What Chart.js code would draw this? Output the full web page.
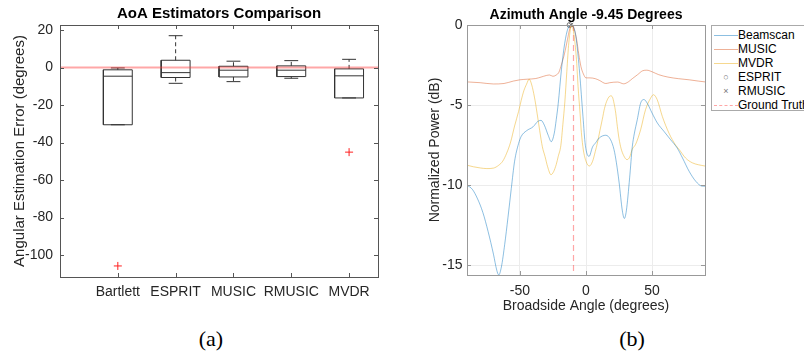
<!DOCTYPE html>
<html>
<head>
<meta charset="utf-8">
<script src="https://cdn.jsdelivr.net/npm/chart.js@4.4.0/dist/chart.umd.min.js"></script>
<style>
  body { margin: 0; width: 804px; height: 356px; overflow: hidden; background: #fff; position: relative; font-family: "Liberation Sans", Arial, sans-serif; }
  canvas { position: absolute; top: 0; }
  #boxChart { left: 0; }
  #powerChart { left: 400px; }
  #legend { position: absolute; left: 711px; top: 25px; width: 120px; height: 86px; border: 1px solid #aaa; box-sizing: border-box; padding-top: 2px; font-size: 12px; color: #000; }
  #legend .row { height: 14px; line-height: 14px; white-space: nowrap; position: relative; padding-left: 26px; }
  #legend .sample { position: absolute; left: 2px; top: 7px; width: 24px; height: 0; }
  #legend .mark { position: absolute; left: 10px; top: 3px; width: 8px; height: 8px; text-align: center; line-height: 8px; font-size: 9px; color: #777; }
  .cap { position: absolute; top: 326px; font-family: "Liberation Serif", "Times New Roman", serif; font-size: 22px; width: 60px; text-align: center; }
</style>
</head>
<body>
<canvas id="boxChart" width="400" height="310"></canvas>
<canvas id="powerChart" width="310" height="320"></canvas>
<div id="legend"></div>
<div class="cap" style="left:181px">(a)</div>
<div class="cap" style="left:602px">(b)</div>
<script>
// ---------- (a) box plot data ----------
var estimators = ['Bartlett', 'ESPRIT', 'MUSIC', 'RMUSIC', 'MVDR'];
var boxQ1 = [-30.5, -5.3, -5.0, -4.8, -16.2];
var boxMedian = [-4.6, -2.7, -1.4, -1.4, -4.4];
var boxQ3 = [-1.2, 3.9, 0.7, 0.9, -0.7];
var whiskerLow = [-30.5, -8.4, -7.5, -5.7, -16.2];
var whiskerHigh = [-0.2, 17.0, 3.4, 3.7, 4.4];
var outlierIndex = [0, 4];
var outlierError = [-105.8, -45.1];
var errorTicks = [20, 0, -20, -40, -60, -80, -100];

// ---------- (b) spectrum data ----------
var beamAngle = [-90, -86, -82, -78, -74, -70, -67.5, -66, -64, -61.5, -59, -56.5, -54, -51, -49, -45, -40, -36.5, -34, -31.5, -28.5, -26.3, -24, -22.5, -21, -18.6, -16.1, -13.6, -11, -8.5, -7.3, -4.8, -2.3, -0.5, 2.3, 5, 7.3, 10, 15, 18.6, 21.2, 23, 25, 27.5, 29, 30.5, 33, 35, 36.5, 38.8, 41.3, 43.8, 46.3, 50, 54, 59, 64, 69, 73, 78, 83, 87.5, 90];
var beamPower = [-10.0, -10.25, -10.85, -11.7, -12.9, -14.3, -15.3, -15.6, -15.1, -13.7, -12.0, -10.2, -8.5, -7.4, -6.95, -6.6, -6.35, -6.02, -5.95, -6.25, -6.9, -7.28, -6.75, -5.9, -4.9, -2.8, -1.14, -0.2, 0, -0.35, -0.93, -3.0, -5.7, -7.5, -8.2, -7.6, -7.35, -7.05, -6.88, -7.16, -7.78, -8.6, -9.8, -11.6, -12.07, -11.6, -9.54, -7.6, -6.8, -5.9, -4.88, -4.65, -4.88, -5.5, -6.12, -6.64, -7.16, -7.68, -8.3, -9.13, -9.75, -10.05, -10.06];
var musicAngle = [-90, -80, -70, -62, -55, -50, -44, -38, -34, -30, -27.5, -25, -22.5, -20.5, -18.5, -16.3, -14, -12.5, -11, -9, -7, -5.5, -3.8, -2, 0, 3, 7, 10, 15, 18, 21, 24, 28.5, 32, 35, 39, 43, 46, 50, 55, 62, 70, 78, 85, 90];
var musicPower = [-3.55, -3.6, -3.68, -3.65, -3.5, -3.42, -3.38, -3.34, -3.25, -3.15, -3.12, -3.2, -3.12, -2.95, -2.45, -1.8, -0.9, -0.3, 0, -0.25, -0.95, -1.8, -2.6, -3.05, -3.3, -3.3, -3.35, -3.45, -3.65, -3.6, -3.57, -3.56, -3.67, -3.55, -3.35, -3.1, -2.85, -2.82, -2.92, -3.1, -3.25, -3.35, -3.42, -3.5, -3.55];
var mvdrAngle = [-90, -85, -80, -75, -70, -66, -63, -60, -57, -54, -51, -49, -47, -45, -43, -41, -39, -37, -35, -33, -31, -29, -26.5, -24.5, -22.5, -21, -19, -17.5, -16, -14.5, -13, -10.8, -8.6, -7, -6, -4.5, -3.5, -2, 0, 2.5, 5, 7, 8.6, 10.5, 12.3, 14, 16.1, 18.6, 20, 21.2, 22.5, 23.7, 25, 26.5, 28.5, 31, 33, 35, 37.5, 41.3, 45, 48.9, 51, 53.9, 57.7, 62.7, 67.8, 70.3, 75.3, 80.4, 85, 90];
var mvdrPower = [-8.75, -8.85, -8.92, -8.96, -8.93, -8.75, -8.5, -8.0, -7.3, -6.3, -5.4, -4.7, -4.1, -3.7, -3.38, -3.75, -4.5, -5.5, -6.6, -7.6, -8.2, -8.85, -9.34, -9.15, -8.7, -8.2, -7.5, -6.2, -4.8, -2.9, -1.1, 0, -0.93, -2.4, -3.84, -5.5, -6.7, -7.8, -8.5, -8.8, -8.5, -7.9, -7.37, -6.6, -5.9, -5.2, -4.67, -4.42, -4.5, -4.88, -5.5, -6.33, -7.1, -7.7, -8.15, -8.4, -8.25, -7.75, -7.45, -6.54, -5.29, -4.56, -4.35, -4.67, -5.7, -6.74, -7.5, -7.75, -8.3, -8.6, -8.72, -8.8];
var espritEstimate = -12.4;
var rmusicEstimate = -11.3;
var truthAngle = -9.45;
var angleTicks = [-50, 0, 50];
var powerTicks = [0, -5, -10, -15];

Chart.defaults.font.family = '"Liberation Sans", Arial, sans-serif';
Chart.defaults.color = '#262626';

// MATLAB-like box around the axes, inward ticks and a title centred on the axes
var frame = {
	id: 'frame',
	afterDraw: function(chart, args, opts) {
		var ctx = chart.ctx, a = chart.chartArea, x = chart.scales.x, y = chart.scales.y;
		ctx.save();
		ctx.strokeStyle = opts.color;
		ctx.lineWidth = 1;
		ctx.strokeRect(Math.round(a.left) + 0.5, Math.round(a.top) + 0.5, Math.round(a.right - a.left), Math.round(a.bottom - a.top));
		ctx.beginPath();
		x.ticks.forEach(function(t) {
			var px = Math.round(x.getPixelForValue(t.value)) + 0.5;
			ctx.moveTo(px, a.bottom); ctx.lineTo(px, a.bottom - 4);
			ctx.moveTo(px, a.top); ctx.lineTo(px, a.top + 4);
		});
		y.ticks.forEach(function(t) {
			var py = Math.round(y.getPixelForValue(t.value)) + 0.5;
			ctx.moveTo(a.left, py); ctx.lineTo(a.left + 4, py);
			ctx.moveTo(a.right, py); ctx.lineTo(a.right - 4, py);
		});
		ctx.stroke();
		ctx.fillStyle = '#000';
		ctx.font = opts.font;
		ctx.textAlign = 'center';
		ctx.textBaseline = 'middle';
		ctx.fillText(opts.title, (a.left + a.right) / 2, opts.titleY);
		ctx.restore();
	}
};

var fixTicks = function(list) {
	return function(scale) { scale.ticks = list.map(function(v) { return {value: v}; }); };
};

/* ---------------- (a) ---------------- */
var half = 0.25, capHalf = 0.12;
var boxPts = [], medPts = [], whiskPts = [], capPts = [];
for (var i = 0; i < estimators.length; i++) {
	var c = i + 1;
	boxPts.push({x: c - half, y: boxQ1[i]}, {x: c + half, y: boxQ1[i]}, {x: c + half, y: boxQ3[i]},
		{x: c - half, y: boxQ3[i]}, {x: c - half, y: boxQ1[i]}, {x: c, y: null});
	medPts.push({x: c - half, y: boxMedian[i]}, {x: c + half, y: boxMedian[i]}, {x: c, y: null});
	whiskPts.push({x: c, y: boxQ3[i]}, {x: c, y: whiskerHigh[i]}, {x: c, y: null},
		{x: c, y: boxQ1[i]}, {x: c, y: whiskerLow[i]}, {x: c, y: null});
	capPts.push({x: c - capHalf, y: whiskerHigh[i]}, {x: c + capHalf, y: whiskerHigh[i]}, {x: c, y: null},
		{x: c - capHalf, y: whiskerLow[i]}, {x: c + capHalf, y: whiskerLow[i]}, {x: c, y: null});
}
var outPts = outlierIndex.map(function(k, j) { return {x: k + 1, y: outlierError[j]}; });

var boxLine = {showLine: true, pointRadius: 0, borderColor: '#333', borderWidth: 1, spanGaps: false};

new Chart(document.getElementById('boxChart'), {
	type: 'scatter',
	data: {
		datasets: [
			{data: [{x: 0, y: 0}, {x: 5.5, y: 0}], showLine: true, pointRadius: 0, borderColor: 'rgba(255,60,60,0.45)', borderWidth: 2},
			Object.assign({data: boxPts}, boxLine),
			Object.assign({data: medPts}, boxLine),
			Object.assign({data: whiskPts, borderDash: [4, 3]}, boxLine),
			Object.assign({data: capPts}, boxLine),
			{data: outPts, pointStyle: 'cross', pointRadius: 4, borderColor: '#ff2020', borderWidth: 1}
		]
	},
	options: {
		responsive: false,
		animation: false,
		layout: {padding: {top: 25, right: 22, left: 0, bottom: 0}},
		plugins: {
			legend: {display: false}, tooltip: {enabled: false},
			frame: {color: '#555', title: 'AoA Estimators Comparison', font: 'bold 15px "Liberation Sans", Arial, sans-serif', titleY: 14}
		},
		scales: {
			x: {
				type: 'linear', min: 0, max: 5.5,
				grid: {display: false, drawTicks: false}, border: {display: false},
				afterBuildTicks: fixTicks([1, 2, 3, 4, 5]),
				afterFit: function(s) { s.height = 33; },
				ticks: {padding: 7, font: {size: 14}, maxRotation: 0, autoSkip: false,
					callback: function(v) { return estimators[v - 1]; }}
			},
			y: {
				min: -111.7, max: 22.7,
				grid: {display: false, drawTicks: false}, border: {display: false},
				afterBuildTicks: fixTicks(errorTicks),
				afterFit: function(s) { s.width = 60; },
				ticks: {padding: 7, font: {size: 14}},
				title: {display: true, text: 'Angular Estimation Error (degrees)', font: {size: 15}, padding: {top: 10.5, bottom: 0}}
			}
		}
	},
	plugins: [frame]
});

/* ---------------- (b) ---------------- */
var toPts = function(xs, ys) { return xs.map(function(v, k) { return {x: v, y: ys[k]}; }); };
var curve = {showLine: true, pointRadius: 0, borderWidth: 1, cubicInterpolationMode: 'monotone'};

var powerChart = new Chart(document.getElementById('powerChart'), {
	type: 'scatter',
	data: {
		datasets: [
			Object.assign({label: 'Beamscan', data: toPts(beamAngle, beamPower), borderColor: 'rgba(0,114,189,0.45)'}, curve),
			Object.assign({label: 'MUSIC', data: toPts(musicAngle, musicPower), borderColor: 'rgba(217,83,25,0.45)'}, curve),
			Object.assign({label: 'MVDR', data: toPts(mvdrAngle, mvdrPower), borderColor: 'rgba(237,177,32,0.5)'}, curve),
			{label: 'ESPRIT', data: [{x: espritEstimate, y: 0}], pointStyle: 'circle', pointRadius: 2.5, borderColor: '#777', backgroundColor: 'rgba(0,0,0,0)', borderWidth: 1, clip: false},
			{label: 'RMUSIC', data: [{x: rmusicEstimate, y: 0}], pointStyle: 'crossRot', pointRadius: 3, borderColor: '#777', borderWidth: 1, clip: false},
			{label: 'Ground Truth', data: [{x: truthAngle, y: 0}, {x: truthAngle, y: -15.6}], showLine: true, pointRadius: 0, borderColor: 'rgba(255,0,0,0.35)', borderWidth: 1.2, borderDash: [6, 4]}
		]
	},
	options: {
		responsive: false,
		animation: false,
		layout: {padding: {top: 25, right: 5, left: 0, bottom: 0}},
		plugins: {
			legend: {display: false}, tooltip: {enabled: false},
			frame: {color: '#999', title: 'Azimuth Angle -9.45 Degrees', font: 'bold 14px "Liberation Sans", Arial, sans-serif', titleY: 15}
		},
		scales: {
			x: {
				type: 'linear', min: -90, max: 90,
				grid: {color: '#ececec', drawTicks: false}, border: {display: false},
				afterBuildTicks: fixTicks(angleTicks),
				afterFit: function(s) { s.height = 45; },
				ticks: {padding: 8, font: {size: 14}, maxRotation: 0},
				title: {display: true, text: 'Broadside Angle (degrees)', font: {size: 14}, padding: {top: 0, bottom: 5}}
			},
			y: {
				min: -15.6, max: 0,
				grid: {color: '#ececec', drawTicks: false}, border: {display: false},
				afterBuildTicks: fixTicks(powerTicks),
				afterFit: function(s) { s.width = 67; },
				ticks: {padding: 4.5, font: {size: 14}},
				title: {display: true, text: 'Normalized Power (dB)', font: {size: 14}, padding: {top: 26.5, bottom: 0}}
			}
		}
	},
	plugins: [frame]
});

// HTML legend built from the datasets
var legend = document.getElementById('legend');
powerChart.data.datasets.forEach(function(ds) {
	var row = document.createElement('div');
	row.className = 'row';
	if (ds.showLine) {
		var s = document.createElement('span');
		s.className = 'sample';
		s.style.borderTop = '1px ' + (ds.borderDash ? 'dashed ' : 'solid ') + ds.borderColor;
		row.appendChild(s);
	} else {
		var m = document.createElement('span');
		m.className = 'mark';
		m.textContent = ds.pointStyle == 'circle' ? '\u25CB' : '\u00D7';
		row.appendChild(m);
	}
	row.appendChild(document.createTextNode(ds.label));
	legend.appendChild(row);
});
</script>
</body>
</html>
